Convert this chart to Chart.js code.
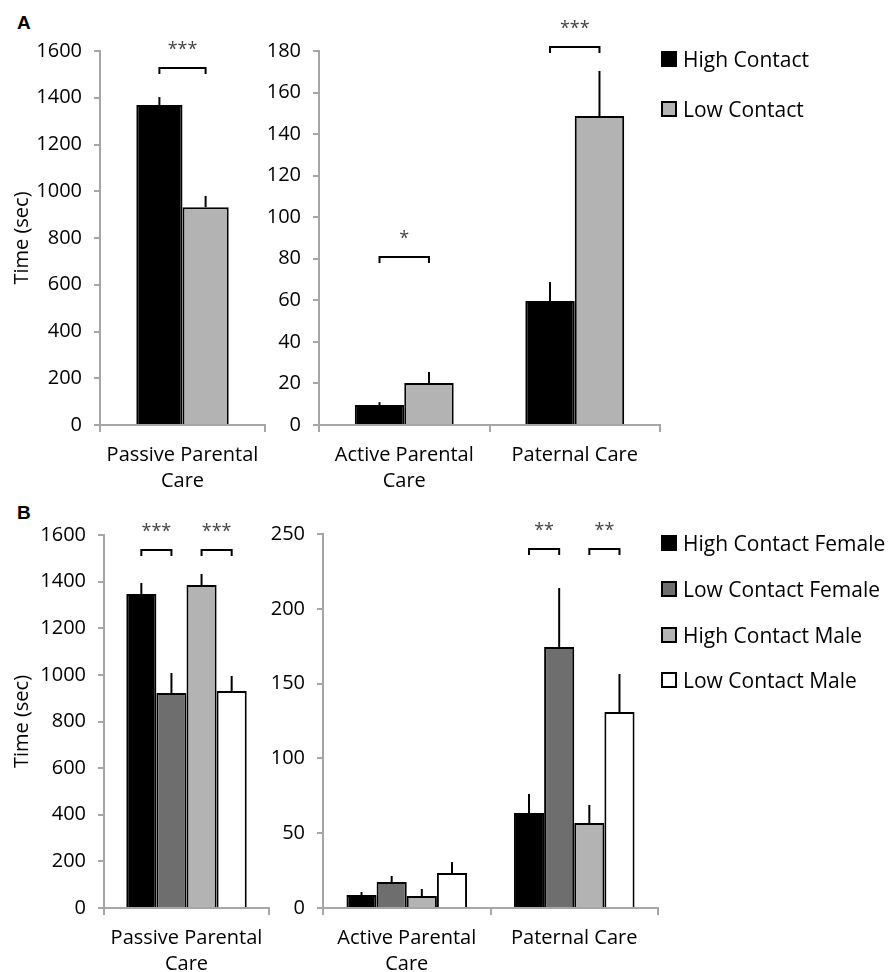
<!DOCTYPE html>
<html lang="en">
<head>
<meta charset="UTF-8" />
<title>Time spent in parental care</title>
<script src="https://cdn.jsdelivr.net/npm/chart.js"></script>
<style>
  body { margin:0; background:#fff; font-family:'Open Sans', Arial, sans-serif; }
  #wrap { position:relative; width:893px; height:972px; overflow:hidden; }
  .panel { position:absolute; }
  .letter { position:absolute; left:17px; font-weight:bold; font-size:19px; font-family:'Liberation Sans', Arial, sans-serif; }
  .item { position:absolute; left:661px; height:26px; white-space:nowrap; font-size:21px; line-height:26px; }
  .item span { position:absolute; left:0; top:5px; width:12px; height:12px; border:2px solid #000; }
  .item b { position:absolute; left:22px; top:0; font-weight:normal; }
</style>
</head>
<body>
<div id="wrap">
  <div class="letter" style="top:12px;">A</div>
  <div class="letter" style="top:502px;">B</div>
  <div class="panel" style="left:0;top:0;width:275px;height:500px;"><canvas id="aLeft"></canvas></div>
  <div class="panel" style="left:266px;top:0;width:404px;height:500px;"><canvas id="aRight"></canvas></div>
  <div class="panel" style="left:0;top:490px;width:279px;height:482px;"><canvas id="bLeft"></canvas></div>
  <div class="panel" style="left:262px;top:490px;width:406px;height:482px;"><canvas id="bRight"></canvas></div>
</div>
<script>
// ---- data (seconds) ----
const passiveLabel = [['Passive Parental', 'Care']];
const careLabels = [['Active Parental', 'Care'], 'Paternal Care'];

const groupsA = ['High Contact', 'Low Contact'];
const colorsA = ['#000000', '#b3b3b3'];
const passiveA = [[1369], [932]];
const passiveAErr = [[34], [48]];
const careA = [[9.6, 59.7], [20.2, 148.7]];
const careAErr = [[1.4, 9.1], [5.3, 21.7]];

const groupsB = ['High Contact Female', 'Low Contact Female', 'High Contact Male', 'Low Contact Male'];
const colorsB = ['#000000', '#6e6e6e', '#b3b3b3', '#ffffff'];
const passiveB = [[1347], [922], [1385], [931]];
const passiveBErr = [[47], [86], [48], [64]];
const careB = [[8.7, 63.5], [17.4, 174.5], [8.0, 56.8], [23.4, 131]];
const careBErr = [[2.0, 12.7], [4.0, 39.4], [4.7, 12.1], [7.3, 25.4]];

// significance brackets: [category, first dataset, second dataset, bracket level, stars]
const sigALeft = [[0, 0, 1, 1527, '***']];
const sigARight = [[0, 0, 1, 81, '*'], [1, 0, 1, 182, '***']];
const sigBLeft = [[0, 0, 1, 1536, '***'], [0, 2, 3, 1536, '***']];
const sigBRight = [[1, 0, 1, 240, '**'], [1, 2, 3, 240, '**']];

const FONT = "'Open Sans', Arial, sans-serif";
const AXIS_GREY = '#a6a6a6';

const errorBars = {
  id: 'errorBars',
  afterDatasetsDraw(chart) {
    const ctx = chart.ctx, y = chart.scales.y;
    ctx.save();
    ctx.strokeStyle = '#000'; ctx.lineWidth = 2;
    chart.data.datasets.forEach((ds, i) => {
      chart.getDatasetMeta(i).data.forEach((bar, j) => {
        const top = y.getPixelForValue(ds.data[j] + ds.err[j]);
        ctx.beginPath(); ctx.moveTo(bar.x, bar.y); ctx.lineTo(bar.x, top); ctx.stroke();
      });
    });
    ctx.restore();
  }
};

const brackets = {
  id: 'brackets',
  afterDraw(chart, args, opts) {
    const ctx = chart.ctx, y = chart.scales.y;
    ctx.save();
    ctx.strokeStyle = '#000'; ctx.lineWidth = 2;
    ctx.fillStyle = '#444'; ctx.font = '18px ' + FONT;
    ctx.textAlign = 'center'; ctx.textBaseline = 'middle';
    (opts.sigs || []).forEach(([cat, a, b, level, stars]) => {
      const x1 = chart.getDatasetMeta(a).data[cat].x;
      const x2 = chart.getDatasetMeta(b).data[cat].x;
      const py = Math.round(y.getPixelForValue(level));
      ctx.beginPath();
      ctx.moveTo(x1, py + 6); ctx.lineTo(x1, py); ctx.lineTo(x2, py); ctx.lineTo(x2, py + 6);
      ctx.stroke();
      ctx.fillText(stars, (x1 + x2) / 2, py - 18);
    });
    ctx.restore();
  }
};

function makeChart(id, labels, names, colors, values, errs, cfg) {
  const datasets = names.map((n, i) => ({
    label: n, data: values[i], err: errs[i],
    backgroundColor: colors[i], borderColor: '#000', borderWidth: 2, borderSkipped: 'bottom',
    barPercentage: 1, categoryPercentage: cfg.catPct
  }));
  return new Chart(document.getElementById(id), {
    type: 'bar',
    data: { labels, datasets },
    plugins: [errorBars, brackets],
    options: {
      responsive: true, maintainAspectRatio: false, animation: false,
      layout: { padding: { top: cfg.top, right: 10, left: 0, bottom: 0 } },
      plugins: { legend: { display: false }, tooltip: { enabled: false }, brackets: { sigs: cfg.sigs } },
      scales: {
        x: {
          afterFit: s => { s.height = cfg.xh; },
          grid: { offset: true, drawOnChartArea: false, tickLength: 7, color: AXIS_GREY, lineWidth: 2 },
          border: { color: AXIS_GREY, width: 2 },
          ticks: { color: '#000', padding: 10, font: { family: FONT, size: 20, lineHeight: 1.3 }, maxRotation: 0 }
        },
        y: {
          min: 0, max: cfg.max,
          afterFit: s => { s.width = cfg.yw; },
          grid: { drawOnChartArea: false, tickLength: 6, color: AXIS_GREY, lineWidth: 2 },
          border: { color: AXIS_GREY, width: 2 },
          ticks: { stepSize: cfg.step, color: '#000', padding: 12, font: { family: FONT, size: 20 },
                   callback: v => String(v) },
          title: { display: !!cfg.title, text: 'Time (sec)', color: '#000', padding: { top: 10, bottom: 0 },
                   font: { family: FONT, size: 20 } }
        }
      }
    }
  });
}

makeChart('aLeft', passiveLabel, groupsA, colorsA, passiveA, passiveAErr,
  { catPct: 0.56, top: 51, xh: 75, yw: 100, max: 1600, step: 200, title: true, sigs: sigALeft });
makeChart('aRight', careLabels, groupsA, colorsA, careA, careAErr,
  { catPct: 0.58, top: 51, xh: 75, yw: 53, max: 180, step: 20, title: false, sigs: sigARight });
makeChart('bLeft', passiveLabel, groupsB, colorsB, passiveB, passiveBErr,
  { catPct: 0.73, top: 45, xh: 64, yw: 104, max: 1600, step: 200, title: true, sigs: sigBLeft });
makeChart('bRight', careLabels, groupsB, colorsB, careB, careBErr,
  { catPct: 0.72, top: 44, xh: 64, yw: 61, max: 250, step: 50, title: false, sigs: sigBRight });

// legends
function legend(names, colors, centers) {
  const wrap = document.getElementById('wrap');
  names.forEach((n, i) => {
    const d = document.createElement('div');
    d.className = 'item';
    d.style.top = (centers[i] - 13) + 'px';
    d.innerHTML = '<span style="background:' + colors[i] + '"></span><b>' + n + '</b>';
    wrap.appendChild(d);
  });
}
legend(groupsA, colorsA, [59, 109]);
legend(groupsB, colorsB, [543, 589, 635, 680]);
</script>
</body>
</html>
